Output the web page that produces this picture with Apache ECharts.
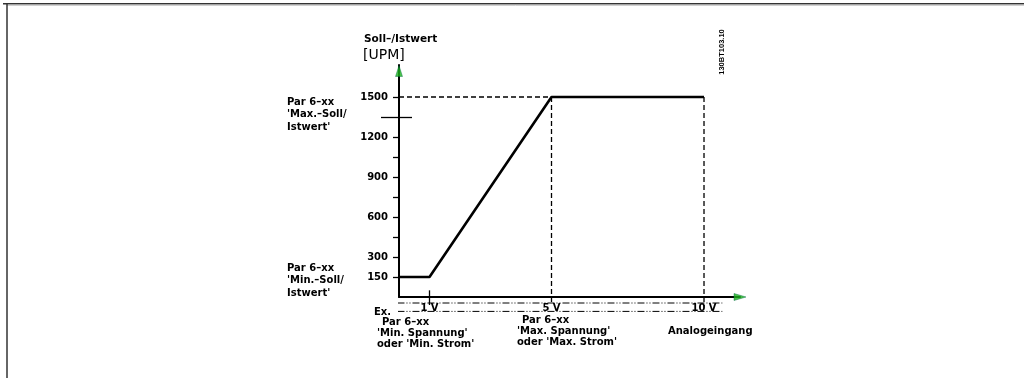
<!DOCTYPE html>
<html>
<head>
<meta charset="utf-8">
<script src="https://cdn.jsdelivr.net/npm/echarts@6/dist/echarts.min.js"></script>
<style>
html,body{margin:0;padding:0;background:#fff;}
#c{width:1024px;height:378px;}
</style>
</head>
<body>
<div id="c"></div>
<script>
// ---- data ----
const curveX = [0, 1, 5, 10];
const curveY = [150, 150, 1500, 1500];
const yLabelValues = [150, 300, 600, 900, 1200, 1500];
const yTickValues = [150, 300, 450, 600, 750, 900, 1050, 1200, 1500];
const yCrossTick = [1350];
const xLabelValues = [1, 5, 10];
const xLabelUnit = ' V';
const minVolt = 1, maxVolt = 5, endVolt = 10;
const minRef = 150, maxRef = 1500;
const yAxisTitle1 = 'Soll\u2013/Istwert';
const yAxisTitle2 = '[UPM]';
const maxRefLabel = ['Par 6\u2013xx', '\'Max.\u2013Soll/', 'Istwert\''];
const minRefLabel = ['Par 6\u2013xx', '\'Min.\u2013Soll/', 'Istwert\''];
const minVoltLabel = ['Par 6\u2013xx', '\'Min. Spannung\'', 'oder \'Min. Strom\''];
const maxVoltLabel = ['Par 6\u2013xx', '\'Max. Spannung\'', 'oder \'Max. Strom\''];
const xAxisTitle = 'Analogeingang';
const exLabel = 'Ex.';
const docCode = '130BT103.10';

const FONT = 'DejaVu Sans';
const chart = echarts.init(document.getElementById('c'), null, {renderer: 'canvas'});

const pairs = curveX.map((x, i) => [x, curveY[i]]);
const dashStyle = {color: '#000', width: 1.3, type: [5, 3]};
const dashDot = {color: '#000', width: 1, type: [7, 2, 1, 2, 1, 2]};
function seg(data, style, z) {
  return {type: 'line', data: data, symbol: 'none', clip: false, silent: true,
          lineStyle: style, z: z || 3, animation: false};
}
function txt(x, y, s, opt) {
  return Object.assign({type: 'text', x: x, y: y, style: Object.assign({
    text: s, fill: '#000', font: 'bold 10px "' + FONT + '"', textVerticalAlign: 'middle'
  }, (opt && opt.style) || {})}, (opt && opt.el) || {});
}
function lines(x, y0, arr, lh) {
  return arr.map((s, i) => txt(x, y0 + i * lh, s));
}
const Y_MAX = 1740;
function crossAxis(inside, len) {
  return {
    type: 'value', min: 0, max: Y_MAX, position: 'left',
    axisLine: {show: false},
    axisTick: {show: true, inside: inside, customValues: yCrossTick, length: len, lineStyle: {color: '#000', width: 1.3}},
    axisLabel: {show: false}, splitLine: {show: false}
  };
}

const option = {
  animation: false,
  backgroundColor: '#fff',
  grid: {left: 399, top: 65, width: 341, height: 232, containLabel: false},
  xAxis: {
    type: 'value', min: 0, max: 11.18,
    axisLine: {show: true, lineStyle: {color: '#000', width: 2}},
    axisTick: {show: false},
    splitLine: {show: false},
    axisLabel: {
      customValues: xLabelValues,
      formatter: v => v + xLabelUnit,
      color: '#000', fontFamily: FONT, fontWeight: 'bold', fontSize: 10, margin: 6
    }
  },
  yAxis: [{
    type: 'value', min: 0, max: Y_MAX,
    axisLine: {show: true, lineStyle: {color: '#000', width: 2}},
    axisTick: {show: true, customValues: yTickValues, length: 6, lineStyle: {color: '#000', width: 1.3}},
    splitLine: {show: false},
    axisLabel: {
      customValues: yLabelValues,
      formatter: v => String(v),
      color: '#000', fontFamily: FONT, fontWeight: 'bold', fontSize: 10, margin: 11
    }
  }, crossAxis(false, 18), crossAxis(true, 13)],
  series: [
    seg([[0, maxRef], [maxVolt, maxRef]], dashStyle),
    seg([[maxVolt, maxRef], [maxVolt, -60]], dashStyle),
    seg([[endVolt, maxRef], [endVolt, -70]], dashStyle),
    seg([[minVolt, 50], [minVolt, -60]], {color: '#000', width: 1.3, type: 'solid'}),
    seg([[-0.05, -45], [10.6, -45]], dashDot),
    seg([[-0.05, -108], [10.6, -108]], dashDot),
    {type: 'line', data: pairs, symbol: 'none', clip: false,
     lineStyle: {color: '#000', width: 2.6}, z: 5},
    {type: 'scatter', data: [[0, Y_MAX]], symbol: 'triangle', symbolSize: [7, 11],
     symbolOffset: [0, 6], itemStyle: {color: '#1db31d', borderColor: '#064', borderWidth: 0.5}, clip: false, z: 6},
    {type: 'scatter', data: [[11.18, 0]], symbol: 'triangle', symbolSize: [7, 12],
     symbolRotate: -90, symbolOffset: [0, 0], itemStyle: {color: '#1db31d', borderColor: '#064', borderWidth: 0.5}, clip: false, z: 6}
  ],
  graphic: [
    {type: 'line', shape: {x1: 3, y1: 3.7, x2: 1024, y2: 3.7}, style: {stroke: '#333', lineWidth: 1.5}},
    {type: 'line', shape: {x1: 7, y1: 5.2, x2: 1024, y2: 5.2}, style: {stroke: '#bbb', lineWidth: 1}},
    {type: 'line', shape: {x1: 7, y1: 3, x2: 7, y2: 378}, style: {stroke: '#333', lineWidth: 1.5}},
    txt(364, 39, yAxisTitle1, {style: {font: 'bold 10.5px "' + FONT + '"'}}),
    txt(363, 55, yAxisTitle2, {style: {font: '14px "' + FONT + '"'}}),
    ...lines(287, 102, maxRefLabel, 12.5),
    ...lines(287, 268, minRefLabel, 12.5),
    txt(374, 312, exLabel),
    ...lines(382, 322, [minVoltLabel[0]], 11),
    ...lines(377, 333, minVoltLabel.slice(1), 11),
    ...lines(522, 320, [maxVoltLabel[0]], 11),
    ...lines(517, 331, maxVoltLabel.slice(1), 11),
    txt(668, 331, xAxisTitle),
    {type: 'text', x: 722, y: 52, rotation: Math.PI / 2,
     style: {text: docCode, fill: '#000', font: 'bold 7.5px "Liberation Sans"', align: 'center', verticalAlign: 'middle'}}
  ]
};
chart.setOption(option);
</script>
</body>
</html>
